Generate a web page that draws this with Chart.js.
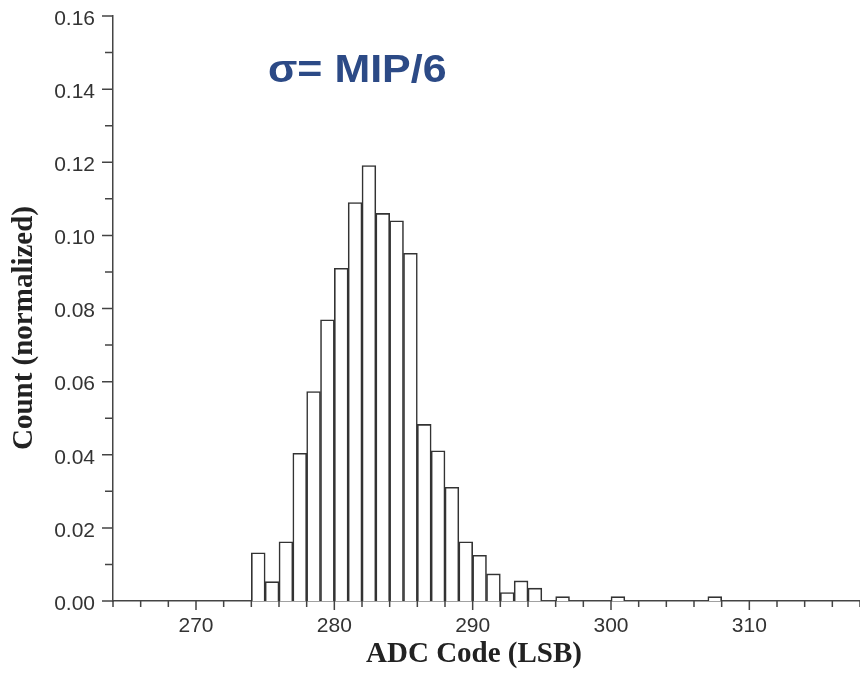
<!DOCTYPE html>
<html>
<head>
<meta charset="utf-8">
<script src="https://cdn.jsdelivr.net/npm/chart.js@4"></script>
<style>
  html, body { margin: 0; padding: 0; background: #fff; }
  #wrap { width: 860px; height: 675px; }
</style>
</head>
<body>
<div id="wrap"><canvas id="hist"></canvas></div>
<script>
// ADC code bins (left edge of each 1-LSB bin)
const binStart = [274, 275, 276, 277, 278, 279, 280, 281, 282, 283, 284, 285, 286, 287, 288, 289, 290,
  291, 292, 293, 294, 295, 296, 297, 298, 299, 300, 301, 302, 303, 304, 305, 306, 307];
// normalized counts
const counts = [0.0132, 0.0053, 0.0162, 0.0404, 0.0573, 0.0769, 0.0910, 0.1090, 0.1191, 0.1060, 0.1040,
  0.0951, 0.0483, 0.0411, 0.0311, 0.0162, 0.0125, 0.0074, 0.0023, 0.0055, 0.0035, 0, 0.0012, 0, 0, 0,
  0.0012, 0, 0, 0, 0, 0, 0, 0.0012];
const xLabels = [270, 280, 290, 300, 310];
const noteText = "σ= MIP/6";
const xTitle = "ADC Code (LSB)";
const yTitle = "Count (normalized)";

const axisColor = "#444";
const tickFont = { family: "'Liberation Sans', Arial, sans-serif", size: 21 };

// draws major/minor tick marks, axis titles and the sigma note
const decorations = {
  id: "decorations",
  afterDraw(chart) {
    const { ctx, chartArea, scales } = chart;
    const x = scales.x, y = scales.y;
    ctx.save();
    ctx.strokeStyle = axisColor;
    ctx.lineWidth = 1.5;
    ctx.beginPath();
    x.ticks.forEach(t => {
      const px = x.getPixelForValue(t.value);
      const len = xLabels.includes(t.value) ? 9 : 6;
      ctx.moveTo(px, chartArea.bottom);
      ctx.lineTo(px, chartArea.bottom + len);
    });
    y.ticks.forEach(t => {
      const py = y.getPixelForValue(t.value);
      const len = Math.round(t.value * 100) % 2 === 0 ? 11 : 8;
      ctx.moveTo(chartArea.left - len, py);
      ctx.lineTo(chartArea.left, py);
    });
    ctx.stroke();

    ctx.fillStyle = "#222";
    ctx.font = "bold 29px 'Liberation Serif', 'Times New Roman', serif";
    ctx.textAlign = "center";
    ctx.textBaseline = "middle";
    ctx.fillText(xTitle, 474, 655);
    ctx.translate(25, 328);
    ctx.rotate(-Math.PI / 2);
    ctx.fillText(yTitle, 0, 0);
    ctx.restore();

    ctx.save();
    ctx.fillStyle = "#2c4a86";
    ctx.font = "bold 38px 'Liberation Sans', Arial, sans-serif";
    ctx.textAlign = "left";
    ctx.textBaseline = "alphabetic";
    ctx.translate(268, 82);
    ctx.scale(1.13, 1);
    ctx.fillText(noteText, 0, 0);
    ctx.restore();
  }
};

new Chart(document.getElementById("hist"), {
  type: "bar",
  data: {
    datasets: [{
      data: binStart.map((b, i) => ({ x: b + 0.5, y: counts[i] })),
      backgroundColor: "#ffffff",
      borderColor: "#333",
      borderWidth: 1.6,
      barPercentage: 1.0,
      categoryPercentage: 1.0
    }]
  },
  options: {
    responsive: true,
    maintainAspectRatio: false,
    animation: false,
    layout: { padding: { top: 16, right: 0, left: 0, bottom: 0 } },
    plugins: {
      legend: { display: false },
      tooltip: { enabled: false }
    },
    scales: {
      x: {
        type: "linear",
        offset: false,
        min: 264,
        max: 318,
        grid: { display: false },
        border: { display: true, color: axisColor, width: 1.5 },
        ticks: {
          stepSize: 2,
          autoSkip: false,
          maxRotation: 0,
          padding: 5,
          color: "#333",
          font: tickFont,
          callback: v => xLabels.includes(v) ? String(v) : ""
        },
        afterFit: s => {
          s.height = 74;
          s.paddingLeft = 0;
          s.paddingRight = 0;
        }
      },
      y: {
        min: 0,
        max: 0.16,
        grid: { display: false },
        border: { display: true, color: axisColor, width: 1.5 },
        ticks: {
          stepSize: 0.01,
          autoSkip: false,
          padding: 10,
          labelOffset: 3,
          color: "#333",
          font: tickFont,
          callback: v => Math.round(v * 100) % 2 === 0 ? v.toFixed(2) : ""
        },
        afterFit: s => {
          s.width = 113;
          s.paddingTop = 0;
          s.paddingBottom = 0;
        }
      }
    }
  },
  plugins: [decorations]
});
</script>
</body>
</html>
